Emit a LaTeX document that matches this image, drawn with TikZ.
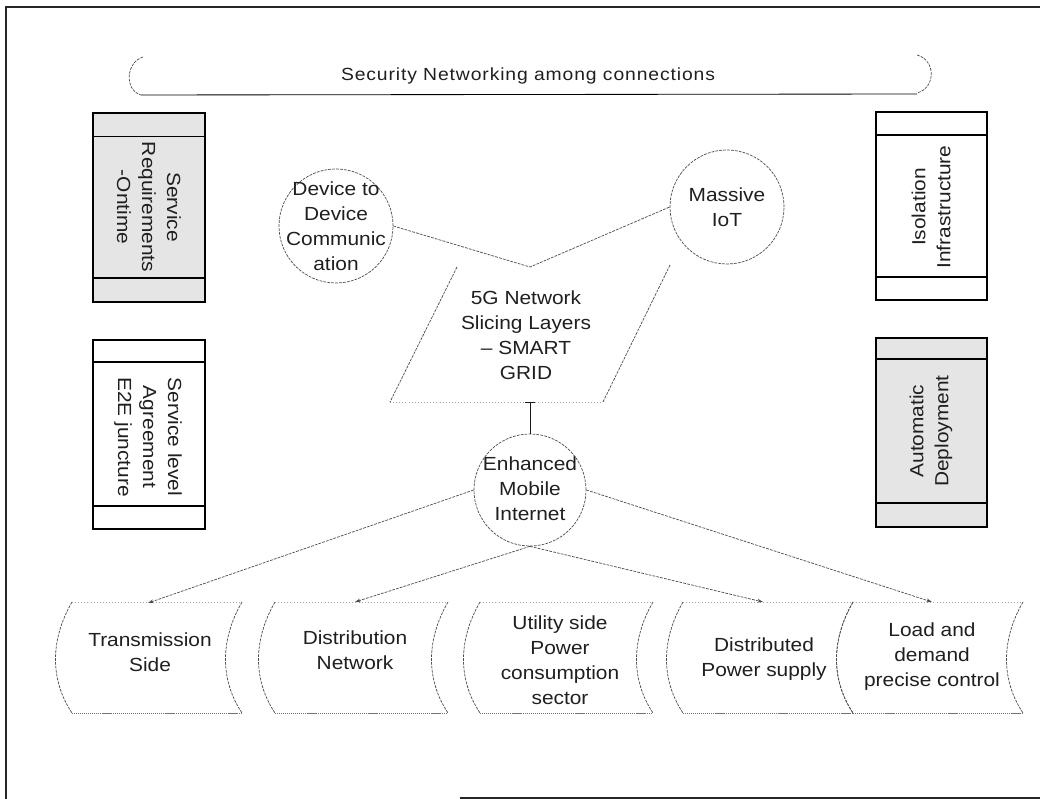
\documentclass[tikz,border=0pt]{standalone}
\usepackage{fontspec}
\setmainfont{Liberation Sans}[FakeStretch=1.1]
\usetikzlibrary{arrows.meta}

\begin{document}
\begin{tikzpicture}[x=0.025cm,y=-0.025cm,
  every node/.style={font=\fontsize{13.5}{17.8}\selectfont, align=center, text=black!88, inner sep=0pt},
  frame/.style={draw=black!85, line width=1.1pt},
  dline/.style={draw=black!70, line width=0.5pt, dash pattern=on 2pt off 0.8pt},
  faint/.style={draw=black!35, line width=0.45pt, dash pattern=on 0.6pt off 1.6pt},
  bottomedge/.style={draw=black!55, line width=0.5pt, dash pattern=on 0.8pt off 0.6pt},
  boxline/.style={draw=black, line width=0.75pt},
  shade/.style={fill=black!10},
  hub/.style={circle, dline, minimum size=2.85cm},
  tip/.style={-{Stealth[length=4pt,width=2.6pt]}},
  stem/.style={draw=black!90, line width=0.6pt}]

\useasboundingbox (0,0) rectangle (1040,799);

% outer frame
\draw[frame] (1045,7) -- (6,7) -- (6,805);
\draw[frame] (460,798) -- (1045,798);

% banner
\draw[dline] (143,57) .. controls (126,62) and (124,90) .. (141,95);
\draw[dline] (917,55) .. controls (936,60) and (936,88) .. (917,93);
\draw[boxline, line width=0.6pt] (141,95) -- (917,94);
\node[font=\fontsize{12.5}{15}\selectfont\addfontfeature{LetterSpace=5}] (banner) at (528,76) {Security Networking among connections};

% side boxes
\draw[boxline, shade] (93,113) rectangle (205,302);
\draw[boxline, line width=0.5pt] (93,136) -- (205,136);
\draw[boxline] (93,278) -- (205,278);
\node[rotate=-90] (srq) at (149,207) {Service\\Requirements\\-Ontime};

\draw[boxline] (93,340) rectangle (205,529);
\draw[boxline] (93,362) -- (205,362);
\draw[boxline] (93,506) -- (205,506);
\node[rotate=-90] (sla) at (148,437) {Service level\\Agreement\\E2E juncture};

\draw[boxline] (876,112) rectangle (987,300);
\draw[boxline] (876,135) -- (987,135);
\draw[boxline] (876,277) -- (987,277);
\node[rotate=90] (iso) at (931,207) {Isolation\\Infrastructure};

\draw[boxline, shade] (876,338) rectangle (987,527);
\draw[boxline] (876,359) -- (987,359);
\draw[boxline] (876,503) -- (987,503);
\node[rotate=90] (auto) at (931,431) {Automatic\\Deployment};

% service circles
\node[hub] (d2d) at (336,226) {};
\node (d2dtext) at (336,226) {Device to\\Device\\Communic\\ation};
\node[hub] (iot) at (727,207) {};
\node (iottext) at (727,207) {Massive\\IoT};

% slicing layer block
\coordinate (v) at (530,267);
\coordinate (slicebot) at (530,402);
\draw[dline] (457,267) -- (390,402);
\draw[dline] (670,265) -- (603,402);
\draw[faint] (390,402) -- (603,402);
\node (slice) at (526,335) {5G Network\\Slicing Layers\\-- SMART\\GRID};
\draw[dline] (d2d.east) -- (v) -- (iot.west);

% enhanced mobile internet hub
\node[hub, minimum size=2.8cm] (emi) at (530,490) {};
\node (emitext) at (530,489) {Enhanced\\Mobile\\Internet};
\draw[stem] (slicebot) -- (emi.north);
\draw[stem] (525,402) -- (535,402);

% sector shapes (stored-data outline)
\foreach \xl/\xr in {72/242, 275/448, 480/653, 683/853, 853/1023}{
  \draw[dline] (\xl,602) .. controls (\xl-22,640) and (\xl-22,680) .. (\xl,713);
  \draw[dline] (\xr,602) .. controls (\xr-22,640) and (\xr-22,680) .. (\xr,713);
  \draw[bottomedge] (\xl,713) -- (\xr,713);
  \draw[faint] (\xl,602) -- (\xr,602);
}
\node (trans) at (150,652) {Transmission\\Side};
\node (dist) at (355,650) {Distribution\\Network};
\node (util) at (560,660) {Utility side\\Power\\consumption\\sector};
\node (dps) at (764,659) {Distributed\\Power supply};
\node (load) at (932,657) {Load and\\demand\\precise control};

% connectors from the hub to the sectors
\coordinate (transtop) at (148,603);
\coordinate (disttop) at (355,602);
\coordinate (dpstop) at (763,602);
\coordinate (loadtop) at (932,602);
\draw[dline, tip] (emi.west) -- (transtop);
\draw[dline, tip] (emi.south) -- (disttop);
\draw[dline, tip] (emi.south) -- (dpstop);
\draw[dline, tip] (emi.east) -- (loadtop);

\end{tikzpicture}
\end{document}
